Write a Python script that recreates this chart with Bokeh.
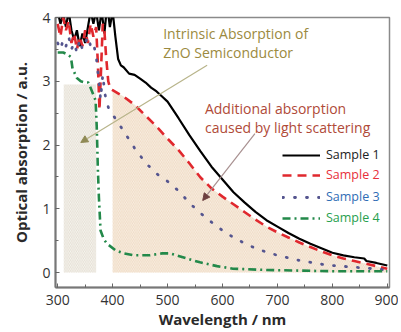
from bokeh.plotting import figure
from bokeh.models import (Legend, LegendItem, Label, Arrow, NormalHead, FixedTicker, Range1d)
from bokeh.embed import file_html
from bokeh.resources import INLINE

# ---------------- data ----------------
wl1 = [300, 305, 310, 315, 320, 325, 330, 335, 340, 345, 350, 355, 360, 365, 370, 375, 380, 385,
       390, 395, 400, 405, 410, 415, 420, 430, 440, 450, 460, 470, 480, 490, 500, 520, 540, 560,
       580, 600, 620, 640, 660, 680, 700, 720, 740, 760, 780, 800, 820, 840, 858, 862, 880, 900]
s1 = [4.1, 3.9, 4.05, 3.85, 4.1, 3.8, 3.65, 3.8, 3.55, 3.75, 3.6, 3.85, 4.1, 3.9, 4.1, 3.8, 4.1, 3.75,
      4.2, 3.85, 4.1, 3.7, 3.35, 3.25, 3.22, 3.12, 3.1, 3.04, 2.98, 2.9, 2.84, 2.76, 2.68, 2.42, 2.15, 1.9,
      1.66, 1.46, 1.26, 1.1, 0.95, 0.82, 0.72, 0.62, 0.53, 0.45, 0.38, 0.31, 0.27, 0.24, 0.22, 0.18, 0.15, 0.11]

wl2 = [300, 305, 310, 315, 320, 325, 330, 335, 340, 345, 350, 355, 360, 365, 370, 373, 376, 379,
       382, 385, 388, 392, 396, 400, 420, 440, 460, 480, 500, 520, 540, 560, 580, 600, 620, 640,
       660, 680, 700, 720, 740, 760, 780, 800, 820, 840, 860, 880, 900]
s2 = [3.9, 3.7, 4.0, 3.8, 3.95, 3.6, 3.75, 3.5, 3.7, 3.55, 3.8, 3.6, 3.9, 3.7, 3.85, 3.3, 2.55, 3.2,
      3.9, 3.8, 3.4, 3.0, 2.88, 2.86, 2.76, 2.63, 2.46, 2.29, 2.1, 1.92, 1.71, 1.49, 1.32, 1.19, 1.07, 0.95,
      0.83, 0.72, 0.63, 0.55, 0.47, 0.4, 0.33, 0.27, 0.22, 0.18, 0.14, 0.1, 0.06]

wl3 = [300, 305, 310, 315, 320, 325, 330, 335, 340, 345, 350, 355, 360, 365, 370, 375, 378, 382,
       386, 390, 393, 400, 420, 440, 460, 480, 500, 520, 540, 560, 580, 600, 620, 640, 660, 680,
       700, 720, 740, 760, 780, 800, 830, 860, 900]
s3 = [3.6, 3.5, 3.65, 3.55, 3.7, 3.5, 3.6, 3.45, 3.65, 3.5, 3.6, 3.7, 3.55, 3.6, 3.4, 3.0, 2.72, 3.1,
      2.8, 2.65, 2.57, 2.48, 2.22, 1.95, 1.72, 1.55, 1.43, 1.28, 1.09, 0.93, 0.79, 0.66, 0.55, 0.46, 0.38, 0.32,
      0.27, 0.23, 0.19, 0.16, 0.13, 0.11, 0.09, 0.07, 0.04]

wl4 = [300, 310, 318, 324, 327, 335, 342, 350, 356, 362, 369, 371, 372, 373, 375, 378, 384, 390,
       405, 420, 438, 468, 490, 504, 520, 535, 559, 590, 619, 680, 740, 800, 900]
s4 = [3.45, 3.45, 3.42, 3.38, 3.2, 3.05, 3.0, 2.98, 2.98, 2.85, 2.7, 2.3, 2.0, 1.65, 1.18, 0.66, 0.52, 0.45,
      0.35, 0.3, 0.27, 0.27, 0.3, 0.3, 0.26, 0.22, 0.16, 0.1, 0.06, 0.04, 0.03, 0.02, 0.02]

series_names = ["Sample 1", "Sample 2", "Sample 3", "Sample 4"]
x_ticks = [300, 400, 500, 600, 700, 800, 900]
y_ticks = [0, 1, 2, 3, 4]

intrinsic_band = [311, 370]      # wavelength span of the intrinsic-absorption hatch
intrinsic_top = 2.95
scatter_start = 400              # scattering hatch begins here, under Sample 2

# ---------------- figure ----------------
p = figure(width=398, height=332, output_backend="svg", toolbar_location=None,
           x_range=Range1d(296, 904), y_range=Range1d(-0.235, 4.0),
           min_border_left=55, min_border_top=17, min_border_right=9, min_border_bottom=45)
p.background_fill_color = "white"
p.border_fill_color = "white"
p.xgrid.visible = False
p.ygrid.visible = False
p.outline_line_color = "#8a8a8a"
p.outline_line_width = 1.5

# hatched regions
p.patch(x=[intrinsic_band[0], intrinsic_band[0], intrinsic_band[1], intrinsic_band[1]],
        y=[0, intrinsic_top, intrinsic_top, 0],
        fill_color="#f7f6f2", line_alpha=0,
        hatch_pattern="\\", hatch_color="#ddd5c6", hatch_scale=3.5, hatch_weight=0.7)

sx = [scatter_start] + [w for w in wl2 if w >= scatter_start] + [wl2[-1]]
sy = [0] + [v for w, v in zip(wl2, s2) if w >= scatter_start] + [0]
p.patch(x=sx, y=sy, fill_color="#f9efe4", line_alpha=0,
        hatch_pattern="\\", hatch_color="#ecd6bd", hatch_scale=3.5, hatch_weight=0.8)

# curves
r1 = p.line(wl1, s1, line_color="black", line_width=2.2)
r2 = p.line(wl2, s2, line_color="#e0282e", line_width=2.6, line_dash="9 6")
r3 = p.line(wl3, s3, line_color="#55558f", line_width=2.8, line_dash="1 11", line_cap="round")
r4 = p.line(wl4, s4, line_color="#23894a", line_width=2.6, line_dash="8 4 2 4")

# legends (one per entry to get coloured labels)
label_colors = ["#222222", "#e8303a", "#2f6db5", "#27a04e"]
renderers = [r1, r2, r3, r4]
offsets = [124, 104, 82, 61]
for name, rr, col, off in zip(series_names, renderers, label_colors, offsets):
    leg = Legend(items=[LegendItem(label=name, renderers=[rr])],
                 location=(227, off), orientation="vertical",
                 glyph_width=38, glyph_height=16, label_standoff=6,
                 padding=0, margin=0, spacing=0,
                 border_line_alpha=0, background_fill_alpha=0,
                 label_text_color=col, label_text_font="Open Sans",
                 label_text_font_size="12.5px", label_height=16)
    p.add_layout(leg)

# annotations
p.add_layout(Label(x=492, y=3.75, text="Intrinsic Absorption of", text_color="#9b8a40",
                   text_font="Open Sans", text_font_size="14px", text_baseline="middle"))
p.add_layout(Label(x=492, y=3.45, text="ZnO Semiconductor", text_color="#9b8a40",
                   text_font="Open Sans", text_font_size="14px", text_baseline="middle"))
p.add_layout(Label(x=568, y=2.57, text="Additional absorption", text_color="#b04a38",
                   text_font="Open Sans", text_font_size="14px", text_baseline="middle"))
p.add_layout(Label(x=568, y=2.27, text="caused by light scattering", text_color="#b04a38",
                   text_font="Open Sans", text_font_size="14px", text_baseline="middle"))

p.add_layout(Arrow(x_start=572, y_start=3.25, x_end=342, y_end=2.04,
                   line_color="#b8b48a", line_width=1.2,
                   end=NormalHead(size=7, fill_color="#8f8a55", line_color="#8f8a55")))
p.add_layout(Arrow(x_start=659, y_start=2.18, x_end=564, y_end=1.13,
                   line_color="#a89090", line_width=1.2,
                   end=NormalHead(size=7, fill_color="#6e4040", line_color="#6e4040")))

# axes
p.xaxis.ticker = FixedTicker(ticks=x_ticks, minor_ticks=list(range(300, 951, 50)))
p.yaxis.ticker = FixedTicker(ticks=y_ticks, minor_ticks=[0, 0.5, 1, 1.5, 2, 2.5, 3, 3.5, 4])
for ax in (p.xaxis, p.yaxis):
    ax.axis_line_color = "#777777"
    ax.axis_line_width = 2
    ax.major_tick_in = 4
    ax.major_tick_out = 0
    ax.minor_tick_in = 3
    ax.minor_tick_out = 0
    ax.major_tick_line_color = "#666666"
    ax.minor_tick_line_color = "#666666"
    ax.major_label_text_font = "Open Sans"
    ax.major_label_text_font_size = "14px"
    ax.major_label_text_color = "#333333"
    ax.axis_label_text_font = "Open Sans"
    ax.axis_label_text_font_style = "bold"
    ax.axis_label_text_font_size = "15px"
    ax.axis_label_text_color = "#2a2a2a"
p.xaxis.axis_label = "Wavelength / nm"
p.yaxis.axis_label = "Optical absorption / a.u."
p.xaxis.major_label_standoff = 7
p.yaxis.major_label_standoff = 5
p.xaxis.axis_label_standoff = 1
p.yaxis.axis_label_standoff = 8

open("out.html", "w").write(file_html(p, INLINE))
